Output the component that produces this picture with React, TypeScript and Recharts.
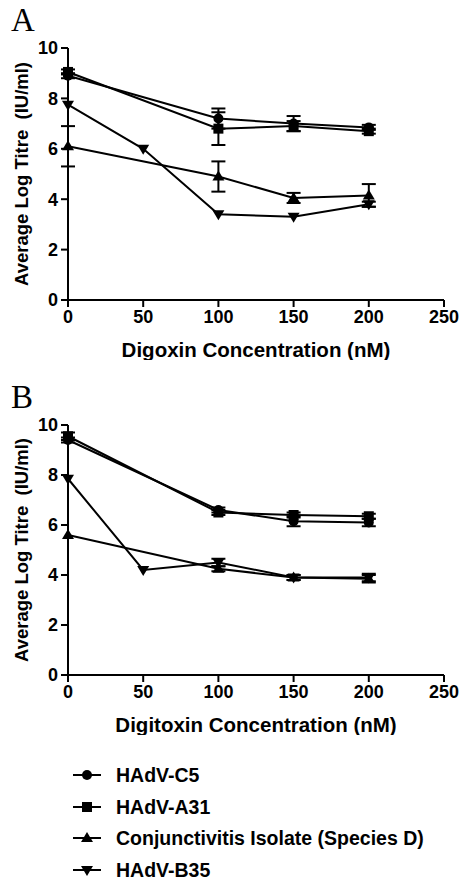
import React from 'react';
import { LineChart, Line, XAxis, YAxis, ErrorBar } from 'recharts';

// concentrations (nM)
const concentrations = [0, 50, 100, 150, 200];
const xTicks = [0, 50, 100, 150, 200, 250];
const yTicks = [0, 2, 4, 6, 8, 10];

// Panel A - digoxin
const digoxinC5 = [8.9, null, 7.2, 7.0, 6.85];
const digoxinC5Err = [0.1, null, 0.4, 0.3, 0.1];
const digoxinA31 = [9.05, null, 6.8, 6.9, 6.7];
const digoxinA31Err = [0.1, null, 0.65, 0.2, 0.1];
const digoxinConj = [6.1, null, 4.9, 4.05, 4.15];
const digoxinConjErr = [0.8, null, 0.6, 0.2, 0.45];
const digoxinB35 = [7.75, 6.0, 3.4, 3.3, 3.8];
const digoxinB35Err = [null, null, null, null, 0.1];

// Panel B - digitoxin
const digitoxinC5 = [9.4, null, 6.6, 6.15, 6.1];
const digitoxinC5Err = [0.1, null, 0.1, 0.2, 0.15];
const digitoxinA31 = [9.55, null, 6.5, 6.4, 6.35];
const digitoxinA31Err = [0.15, null, 0.1, 0.1, 0.1];
const digitoxinConj = [5.6, null, 4.25, 3.9, 3.85];
const digitoxinConjErr = [null, null, 0.1, 0.1, 0.15];
const digitoxinB35 = [7.85, 4.2, 4.5, 3.9, 3.9];
const digitoxinB35Err = [null, null, 0.15, 0.1, 0.15];

const series = [
  { key: 'c5', name: 'HAdV-C5', shape: 'circle' },
  { key: 'a31', name: 'HAdV-A31', shape: 'square' },
  { key: 'conj', name: 'Conjunctivitis Isolate (Species D)', shape: 'up' },
  { key: 'b35', name: 'HAdV-B35', shape: 'down' },
];

const buildRows = (vals: any[][], errs: any[][]) =>
  concentrations.map((x, i) => {
    const row: any = { x };
    series.forEach((s, j) => {
      row[s.key] = vals[j][i];
      row[s.key + 'Err'] = errs[j][i];
    });
    return row;
  });

const digoxinData = buildRows(
  [digoxinC5, digoxinA31, digoxinConj, digoxinB35],
  [digoxinC5Err, digoxinA31Err, digoxinConjErr, digoxinB35Err]
);
const digitoxinData = buildRows(
  [digitoxinC5, digitoxinA31, digitoxinConj, digitoxinB35],
  [digitoxinC5Err, digitoxinA31Err, digitoxinConjErr, digitoxinB35Err]
);

const FONT = '"Liberation Sans", Arial, sans-serif';

function Marker({ shape, cx, cy }: { shape: string; cx: number; cy: number }) {
  if (shape === 'circle') return <circle cx={cx} cy={cy} r={5} fill="#000" />;
  if (shape === 'square') return <rect x={cx - 5} y={cy - 5} width={10} height={10} fill="#000" />;
  if (shape === 'up')
    return <polygon points={`${cx},${cy - 6} ${cx - 6},${cy + 4} ${cx + 6},${cy + 4}`} fill="#000" />;
  return <polygon points={`${cx},${cy + 6} ${cx - 6},${cy - 4} ${cx + 6},${cy - 4}`} fill="#000" />;
}

const dotFor = (shape: string) => (props: any) => {
  const { cx, cy, value, index } = props;
  if (cx == null || cy == null || value == null) return <g key={index} />;
  return <Marker key={index} shape={shape} cx={cx} cy={cy} />;
};

const tickStyle = { fontSize: 18, fontWeight: 700, fill: '#000', fontFamily: FONT };

function Panel({ data, xTitle, height, top }: { data: any[]; xTitle: string; height: number; top: number }) {
  const plotBottom = height - 60;
  const yCenter = (top + plotBottom) / 2;
  return (
    <LineChart width={461} height={height} data={data} margin={{ top, right: 17, left: 0, bottom: 0 }}>
      <XAxis
        dataKey="x"
        type="number"
        domain={[0, 250]}
        ticks={xTicks}
        height={60}
        tick={tickStyle}
        tickSize={7}
        tickMargin={3}
        axisLine={{ stroke: '#000', strokeWidth: 2 }}
        tickLine={{ stroke: '#000', strokeWidth: 2 }}
        label={{
          value: xTitle,
          position: 'insideBottom',
          offset: 3,
          style: { fontSize: 20.5, fontWeight: 700, fill: '#000', fontFamily: FONT },
        }}
      />
      <YAxis
        type="number"
        domain={[0, 10]}
        ticks={yTicks}
        width={68}
        tick={tickStyle}
        tickSize={7}
        tickMargin={3}
        axisLine={{ stroke: '#000', strokeWidth: 2 }}
        tickLine={{ stroke: '#000', strokeWidth: 2 }}
        label={{
          content: () => (
            <text
              transform={`rotate(-90, 28, ${yCenter})`}
              x={28}
              y={yCenter}
              textAnchor="middle"
              style={{ fontSize: 18.5, fontWeight: 700, fill: '#000', fontFamily: FONT }}
            >
              Average Log Titre{'\u00a0\u00a0'}(IU/ml)
            </text>
          ),
        }}
      />
      {series.map((s) => (
        <Line
          key={s.key}
          dataKey={s.key}
          type="linear"
          stroke="#000"
          strokeWidth={2}
          connectNulls
          dot={dotFor(s.shape)}
          activeDot={false}
          isAnimationActive={false}
        >
          <ErrorBar dataKey={s.key + 'Err'} direction="y" width={7} stroke="#000" strokeWidth={2} />
        </Line>
      ))}
    </LineChart>
  );
}

function LegendIcon({ shape }: { shape: string }) {
  return (
    <svg width={28} height={14} style={{ display: 'block' }}>
      <line x1={0} y1={7} x2={28} y2={7} stroke="#000" strokeWidth={2} />
      <Marker shape={shape} cx={14} cy={7} />
    </svg>
  );
}

export default function App() {
  return (
    <div style={{ position: 'absolute', left: 0, top: 0, width: 461, height: 881, background: '#fff', fontFamily: FONT, overflow: 'hidden' }}>
      <div style={{ position: 'absolute', left: 11, top: 2, fontSize: 33, fontFamily: '"Liberation Serif", "Times New Roman", serif' }}>A</div>
      <div style={{ position: 'absolute', left: 0, top: 0 }}>
        <Panel data={digoxinData} xTitle="Digoxin Concentration (nM)" height={360} top={48} />
      </div>
      <div style={{ position: 'absolute', left: 11, top: 379, fontSize: 33, fontFamily: '"Liberation Serif", "Times New Roman", serif' }}>B</div>
      <div style={{ position: 'absolute', left: 0, top: 380 }}>
        <Panel data={digitoxinData} xTitle="Digitoxin Concentration (nM)" height={355} top={45} />
      </div>
      {series.map((s, i) => (
        <div
          key={s.key}
          style={{
            position: 'absolute',
            left: 73,
            top: 765 + i * 31.5,
            height: 20,
            lineHeight: '20px',
            display: 'flex',
            alignItems: 'center',
            fontSize: 19.5,
            fontWeight: 700,
            whiteSpace: 'nowrap',
          }}
        >
          <LegendIcon shape={s.shape} />
          <span style={{ marginLeft: 15, lineHeight: '20px' }}>{s.name}</span>
        </div>
      ))}
    </div>
  );
}
